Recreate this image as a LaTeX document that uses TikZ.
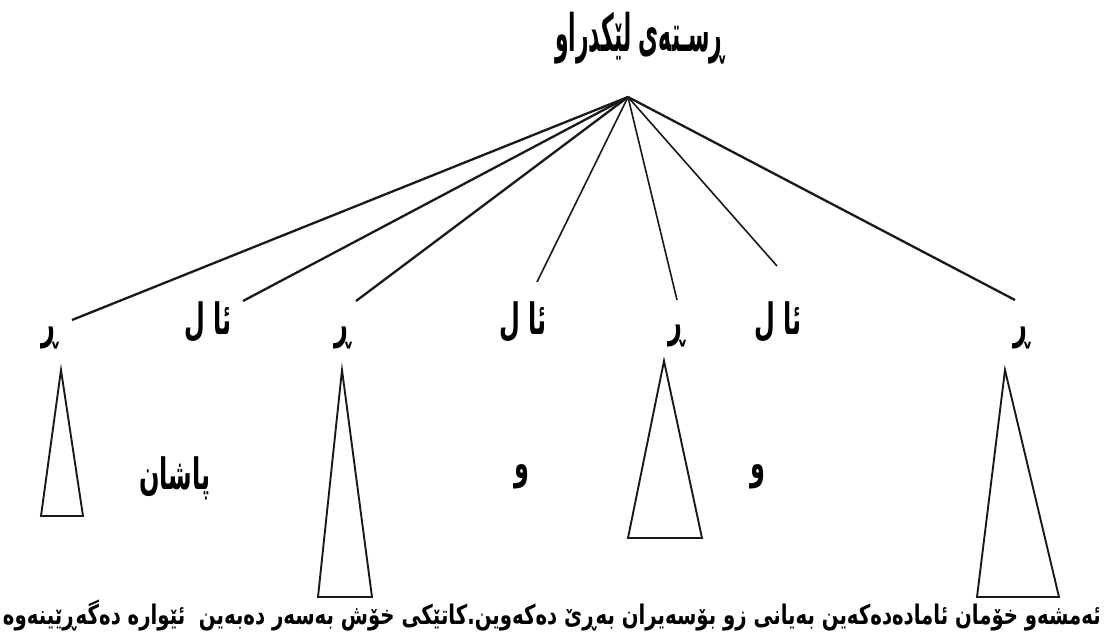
\documentclass[tikz,border=0pt]{standalone}
\usepackage{fontspec}
\usepackage{graphicx}
\TeXXeTstate=1
\newfontfamily\kufont[Script=Arabic]{DejaVu Sans}
\tikzset{
  lbl/.style={inner sep=0pt, font=\kufont\bfseries\fontsize{24}{28}\selectfont},
  ttl/.style={inner sep=0pt, font=\kufont\bfseries\fontsize{28}{32}\selectfont},
  sent/.style={inner sep=0pt, font=\kufont\bfseries\fontsize{18}{22}\selectfont},
  thick branch/.style={line width=2.3pt, black!90},
  thin branch/.style={line width=1.6pt, black!90},
  tri/.style={line width=1.9pt, black!90},
}
\begin{document}
\begin{tikzpicture}[x=1pt,y=-1pt]
\useasboundingbox (0,0) rectangle (1106,640);
% title and root
\node[ttl] (title) at (640,38) {\scalebox{0.78}[1.85]{\beginR ڕسـتەی لێکدراو\endR}};
\coordinate (root) at (628,97);
% top-level labels
\node[lbl] (r1) at (50,338) {\scalebox{1}[1.8]{\beginR ڕ\endR}};
\node[lbl] (c1) at (208,322) {\scalebox{1}[1.8]{\beginR ئا ل\endR}};
\node[lbl] (r2) at (343,338) {\scalebox{1}[1.8]{\beginR ڕ\endR}};
\node[lbl] (c2) at (523,322) {\scalebox{1}[1.8]{\beginR ئا ل\endR}};
\node[lbl] (r3) at (677,336) {\scalebox{1}[1.8]{\beginR ڕ\endR}};
\node[lbl] (c3) at (778,322) {\scalebox{1}[1.8]{\beginR ئا ل\endR}};
\node[lbl] (r4) at (1022,338) {\scalebox{1}[1.8]{\beginR ڕ\endR}};
% branch end points
\coordinate (e1) at (72,320);
\coordinate (e2) at (243,301);
\coordinate (e3) at (356,301);
\coordinate (e4) at (537,282);
\coordinate (e5) at (677,300);
\coordinate (e6) at (777,266);
\coordinate (e7) at (1015,300);
\draw[thick branch] (root) -- (e1);
\draw[thick branch] (root) -- (e2);
\draw[thick branch] (root) -- (e3);
\draw[thin branch] (root) -- (e4);
\draw[thin branch] (root) -- (e5);
\draw[thin branch] (root) -- (e6);
\draw[thick branch] (root) -- (e7);
% triangles
\coordinate (t1a) at (61,370);  \coordinate (t1l) at (41,516);  \coordinate (t1r) at (83,516);
\coordinate (t2a) at (342,370); \coordinate (t2l) at (318,597); \coordinate (t2r) at (372,597);
\coordinate (t3a) at (664,361); \coordinate (t3l) at (628,538); \coordinate (t3r) at (702,538);
\coordinate (t4a) at (1005,370);\coordinate (t4l) at (977,597); \coordinate (t4r) at (1059,597);
\draw[tri] (t1a) -- (t1l) -- (t1r) -- cycle;
\draw[tri] (t2a) -- (t2l) -- (t2r) -- cycle;
\draw[tri] (t3a) -- (t3l) -- (t3r) -- cycle;
\draw[tri] (t4a) -- (t4l) -- (t4r) -- cycle;
% conjunctions
\node[lbl] (k1) at (175,478) {\scalebox{1}[1.8]{\beginR پاشان\endR}};
\node[lbl] (k2) at (522,477) {\scalebox{1}[1.8]{\beginR و\endR}};
\node[lbl] (k3) at (758,477) {\scalebox{1}[1.8]{\beginR و\endR}};
% sentence
\node[sent] (s) at (552,616) {\scalebox{1.095}[1.5]{\beginR ئەمشەو خۆمان ئامادەدەکەین بەیانی زو بۆسەیران بەڕێ دەکەوین.کاتێکی خۆش بەسەر دەبەین\ \ ئێوارە دەگەڕێینەوە\endR}};
\end{tikzpicture}
\end{document}
